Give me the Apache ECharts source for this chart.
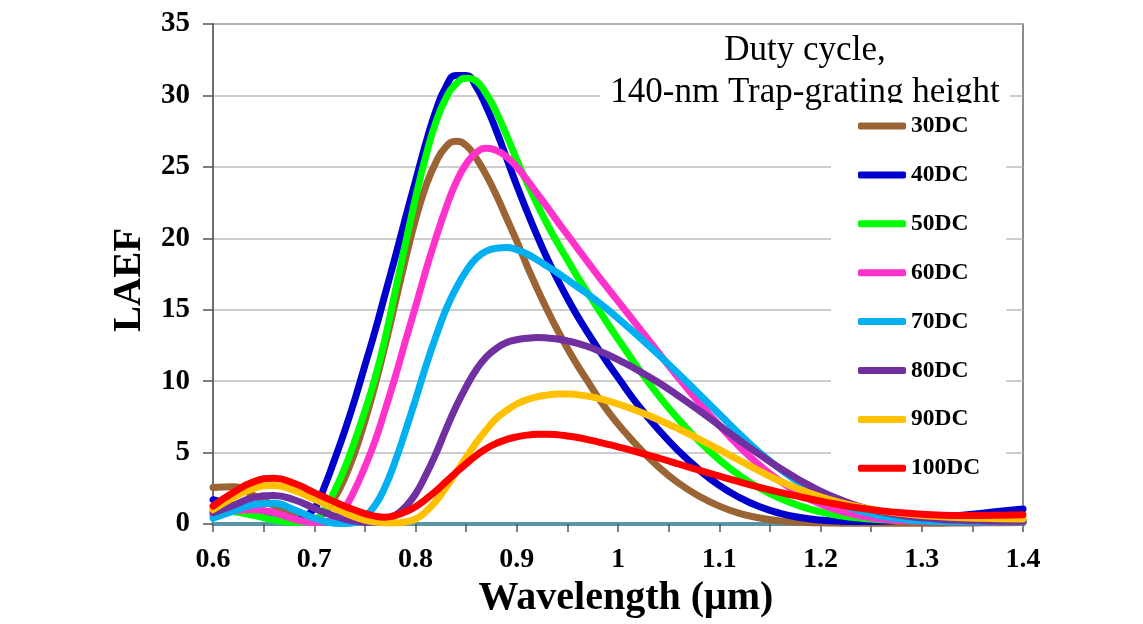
<!DOCTYPE html>
<html>
<head>
<meta charset="utf-8">
<script src="https://cdn.jsdelivr.net/npm/echarts@6/dist/echarts.min.js"></script>
<style>
  html, body { margin: 0; padding: 0; background: #fff; }
  #chart { width: 1143px; height: 624px; }
</style>
</head>
<body>
<div id="chart"></div>
<script>
// Wavelength sample points (µm): coarser at the ends, finer around the peaks
const wavelengths = [
  0.60,0.62,0.64,0.66,0.68,
  0.70,0.71,0.72,0.73,0.74,0.75,0.76,0.77,0.78,0.79,
  0.80,0.81,0.82,0.83,0.84,0.85,0.86,0.87,0.88,0.89,
  0.90,0.91,0.92,0.93,0.94,0.95,0.96,0.97,0.98,0.99,1.00,
  1.02,1.04,1.06,1.08,1.10,1.12,1.14,1.16,1.18,1.20,
  1.22,1.24,1.26,1.28,1.30,1.32,1.34,1.36,1.38,1.40
];

const seriesNames = ['30DC','40DC','50DC','60DC','70DC','80DC','90DC','100DC'];
const seriesColors = ['#9A6434','#0000CC','#00FF00','#FF33CC','#00B0F0','#7030A0','#FFC000','#FF0000'];

const dc30 = [2.55,2.6,2.0,1.3,0.65,
  0.4,0.8,1.8,3.2,5.0,7.2,9.7,12.5,15.5,18.5,
  21.3,23.6,25.3,26.4,26.8,26.5,25.6,24.4,23.0,21.4,
  19.8,18.1,16.5,15.0,13.6,12.3,11.1,10.0,8.9,7.9,7.0,
  5.4,4.0,2.85,1.95,1.25,0.75,0.42,0.22,0.12,0.08,
  0.06,0.05,0.05,0.05,0.05,0.06,0.07,0.08,0.09,0.1];
const dc40 = [1.7,1.3,0.85,0.45,0.25,
  1.1,2.6,4.5,6.5,8.7,11.1,13.5,16.1,18.7,21.4,
  24.0,26.6,28.9,30.6,31.4,31.4,30.6,29.2,27.5,25.6,
  23.7,21.9,20.2,18.6,17.15,15.8,14.55,13.4,12.3,11.25,10.25,
  8.3,6.6,5.1,3.8,2.7,1.85,1.2,0.75,0.45,0.28,
  0.2,0.18,0.2,0.26,0.35,0.47,0.61,0.76,0.91,1.05];
const dc50 = [0.9,0.85,0.6,0.3,0.1,
  0.2,1.0,2.3,3.9,5.8,7.9,10.2,13.0,16.3,19.6,
  22.8,25.7,28.1,29.8,30.8,31.2,31.0,30.1,28.8,27.2,
  25.5,23.9,22.4,21.0,19.7,18.5,17.3,16.2,15.1,14.0,12.95,
  10.9,9.0,7.3,5.8,4.5,3.4,2.5,1.8,1.25,0.85,
  0.57,0.4,0.3,0.25,0.23,0.23,0.25,0.28,0.31,0.35];
const dc60 = [0.6,0.9,1.0,0.8,0.35,
  0.1,0.15,0.35,1.1,2.4,4.0,5.8,8.0,10.3,12.8,
  15.2,17.7,20.0,22.1,23.9,25.2,26.0,26.3,26.15,25.7,
  25.0,24.1,23.15,22.2,21.2,20.25,19.3,18.35,17.4,16.5,15.6,
  13.8,12.0,10.2,8.5,6.9,5.4,4.1,3.0,2.1,1.4,
  0.9,0.55,0.35,0.25,0.2,0.17,0.16,0.15,0.15,0.15];
const dc70 = [0.4,0.9,1.35,1.45,1.0,
  0.4,0.2,0.05,0.03,0.1,0.5,1.3,2.6,4.4,6.5,
  8.7,11.0,13.1,15.0,16.5,17.7,18.6,19.1,19.3,19.35,
  19.2,18.9,18.5,18.05,17.6,17.1,16.6,16.1,15.55,15.0,14.4,
  13.15,11.85,10.5,9.1,7.7,6.3,5.0,3.85,2.85,2.05,
  1.4,0.9,0.55,0.35,0.22,0.17,0.15,0.15,0.15,0.15];
const dc80 = [0.8,1.3,1.85,2.0,1.7,
  1.1,0.8,0.55,0.35,0.2,0.13,0.12,0.25,0.6,1.2,
  2.1,3.4,4.9,6.6,8.2,9.6,10.8,11.7,12.3,12.7,
  12.9,13.0,13.05,13.02,12.95,12.82,12.65,12.42,12.15,11.85,11.5,
  10.75,9.9,8.95,7.95,6.9,5.85,4.85,3.9,3.05,2.3,
  1.7,1.2,0.85,0.6,0.43,0.32,0.26,0.22,0.2,0.2];
const dc90 = [1.0,1.85,2.5,2.7,2.35,
  1.75,1.42,1.1,0.78,0.5,0.28,0.15,0.09,0.08,0.15,
  0.35,0.85,1.6,2.55,3.6,4.65,5.7,6.6,7.4,7.95,
  8.4,8.7,8.9,9.02,9.1,9.1,9.05,8.95,8.8,8.62,8.4,
  7.9,7.3,6.65,5.95,5.2,4.45,3.7,3.0,2.4,1.9,
  1.5,1.17,0.92,0.73,0.6,0.5,0.44,0.4,0.37,0.35];
const dc100 = [1.25,2.2,2.95,3.2,2.85,
  2.2,1.87,1.55,1.25,0.98,0.72,0.55,0.48,0.6,0.85,
  1.2,1.72,2.3,2.95,3.6,4.22,4.8,5.28,5.65,5.92,
  6.1,6.22,6.28,6.29,6.25,6.16,6.05,5.91,5.75,5.58,5.4,
  5.02,4.62,4.2,3.77,3.35,2.95,2.57,2.22,1.9,1.6,
  1.33,1.1,0.92,0.78,0.68,0.62,0.6,0.6,0.62,0.65];

const allValues = [dc30, dc40, dc50, dc60, dc70, dc80, dc90, dc100];

const xTicks = [0.6,0.7,0.8,0.9,1.0,1.1,1.2,1.3,1.4];
const yTicks = [0,5,10,15,20,25,30,35];

const titleText = 'Duty cycle,\n140-nm Trap-grating height';
const serif = '"Liberation Serif", "Times New Roman", "DejaVu Serif", serif';

const chart = echarts.init(document.getElementById('chart'), null, { renderer: 'canvas' });

const series = seriesNames.map((name, i) => ({
  name: name,
  type: 'line',
  smooth: 0.5,
  showSymbol: false,
  symbol: 'none',
  color: seriesColors[i],
  lineStyle: { width: 7, color: seriesColors[i], cap: 'round', join: 'round' },
  data: wavelengths.map((w, k) => [w, allValues[i][k]])
}));

const option = {
  backgroundColor: '#ffffff',
  animation: false,
  title: {
    text: titleText,
    left: 795,
    top: 26,
    textAlign: 'center',
    padding: [4, 10, 4, 10],
    backgroundColor: '#ffffff',
    textStyle: {
      fontFamily: serif,
      fontSize: 35,
      fontWeight: 'normal',
      color: '#000',
      lineHeight: 42
    },
    z: 3
  },
  legend: {
    orient: 'vertical',
    left: 831,
    top: 103,
    padding: [11, 26, 10, 27],
    backgroundColor: '#ffffff',
    icon: 'roundRect',
    itemWidth: 48,
    itemHeight: 7,
    itemGap: 24.9,
    data: seriesNames,
    textStyle: {
      fontFamily: serif,
      fontSize: 23.5,
      fontWeight: 'bold',
      color: '#000',
      lineHeight: 24
    },
    z: 10
  },
  grid: {
    left: 213,
    right: 120,
    top: 24,
    bottom: 99,
    show: true,
    borderColor: '#666',
    borderWidth: 1.5,
    backgroundColor: 'transparent'
  },
  xAxis: {
    type: 'value',
    min: 0.6,
    max: 1.4,
    interval: 0.1,
    name: 'Wavelength (μm)',
    nameLocation: 'middle',
    nameGap: 55,
    nameTextStyle: {
      fontFamily: serif,
      fontSize: 40,
      fontWeight: 'bold',
      color: '#000',
      padding: [0, 0, 0, 16]
    },
    axisLine: { show: true, onZero: false, lineStyle: { color: '#5796A8', width: 4 } },
    axisTick: { show: true, inside: false, length: 8, lineStyle: { color: '#555', width: 1.5 } },
    minorTick: { show: true, splitNumber: 2, length: 8, lineStyle: { color: '#555', width: 1.5 } },
    axisLabel: {
      margin: 22,
      fontFamily: serif,
      fontSize: 28,
      fontWeight: 'bold',
      color: '#000',
      formatter: function (v) {
        const r = Math.round(v * 10) / 10;
        return String(r);
      }
    },
    splitLine: { show: false }
  },
  yAxis: {
    type: 'value',
    min: 0,
    max: 35,
    interval: 5,
    name: 'LAEF',
    nameLocation: 'middle',
    nameGap: 64,
    nameRotate: 90,
    nameTextStyle: {
      fontFamily: serif,
      fontSize: 39,
      fontWeight: 'bold',
      color: '#000',
      padding: [0, 12, 0, 0]
    },
    axisLine: { show: true, lineStyle: { color: '#6e6e6e', width: 2 } },
    axisTick: { show: true, inside: false, length: 10, lineStyle: { color: '#555', width: 1.5 } },
    axisLabel: {
      margin: 23,
      fontFamily: serif,
      fontSize: 29,
      fontWeight: 'bold',
      color: '#000'
    },
    splitLine: { show: true, lineStyle: { color: '#BDBDBD', width: 1.5 } }
  },
  series: series
};

chart.setOption(option);
</script>
</body>
</html>
